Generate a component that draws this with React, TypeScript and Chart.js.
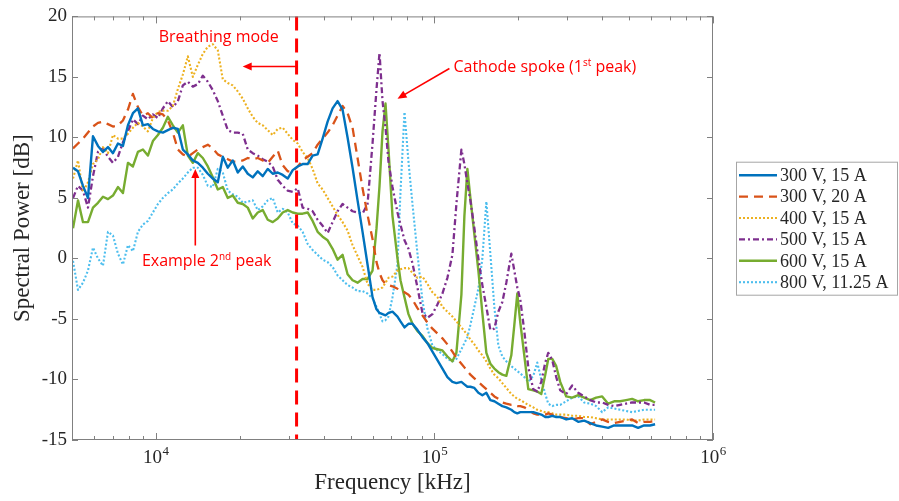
import { useEffect, useRef } from "react";
import { Chart, registerables } from "chart.js";

Chart.register(...registerables);

// Frequency grid (axis units as labelled: 10^4 ... 10^6)
const FREQ = [
  5042, 5254, 5476, 5706, 5947, 6197, 6459, 6731, 7014, 7310, 7618, 7939, 8273, 8622, 8985, 9364,
  9758, 10169, 10598, 11045, 11510, 11995, 12500, 13027, 13576, 14148, 14744, 15365, 16012, 16687,
  17390, 18123, 18887, 19682, 20512, 21376, 22277, 23215, 24194, 25213, 26275, 27382, 28536, 29738,
  30991, 32297,
  33646, 35063, 36540, 38079, 39683, 41355, 43097, 44912, 46804, 48776, 50830, 52971, 55203, 57528,
  59951, 61963, 63516, 65108, 66740, 68413, 70709, 73688, 75535, 78070, 80690, 83398, 86911, 90573,
  94389, 98365, 102510, 106829, 111329, 116020, 119913, 124965, 128100, 131312, 134604, 139121,
  143790, 148615, 153602, 158757, 164084, 169590, 175281, 181163, 188795, 193528, 198380, 203354,
  210178, 217231, 226383, 233980, 241832, 249947, 256214, 264812, 273698, 282883,
  297238, 312326, 328180, 344839, 362343, 380736, 400062, 420369, 441707, 464128, 487687, 512442,
  538454, 565786, 594505, 619552,
];

const V300_15A = [
  7.5, 7.2, 6.0, 5.0, 10.1, 9.3, 8.8, 9.2, 8.7, 9.5, 9.3, 11.0, 12.0, 12.4, 11.0, 11.1,
  10.7, 10.5, 10.4, 10.6, 10.8, 10.7, 9.0, 8.6, 8.1, 7.9, 7.5, 7.0, 6.6, 6.3,
  8.4, 7.5, 8.1, 7.1, 7.6, 7.0, 6.7, 7.2, 6.8, 7.4, 7.0, 7.1, 6.9, 6.6,
  7.3, 7.6,
  7.8, 7.8, 8.5, 8.6, 9.9, 11.3, 12.4, 13.0, 12.3, 10.0, 7.5, 4.8, 2.2, -0.5,
  -3.2, -4.2, -4.5, -4.6, -4.7, -4.5, -4.4, -4.8, -5.2, -5.7, -5.4, -5.4, -5.9, -6.5,
  -7.0, -7.7, -8.4, -9.1, -9.8, -10.2, -10.3, -10.2, -10.4, -10.6, -10.6, -10.7,
  -11.1, -11.3, -11.1, -11.7, -11.8, -12.0, -12.2, -12.3, -12.5, -12.7, -12.8, -12.7,
  -12.7, -12.7, -12.7, -12.8, -12.9, -13.1, -13.1, -13.0, -13.1, -13.1,
  -13.3, -13.2, -13.5, -13.4, -13.6, -13.8, -13.9, -14.0, -13.8, -13.8, -13.8, -13.8,
  -14.0, -13.8, -13.8, -13.7,
];

const V300_20A = [
  9.1, 9.5, 9.9, 10.4, 10.9, 11.2, 11.3, 11.1, 10.9, 11.0, 11.4, 12.3, 13.6, 12.5, 11.8, 12.0,
  11.6, 12.0, 11.9, 11.4, 10.4, 9.0, 8.6, 8.4, 8.7, 9.0, 9.2, 9.4, 9.1, 8.6,
  8.4, 8.2, 8.0, 8.0, 8.1, 8.3, 8.2, 8.3, 8.1, 7.9, 8.4, 8.9, 7.7, 7.2,
  7.2, 7.6,
  8.1, 8.4, 8.7, 9.4, 9.9, 10.4, 11.0, 11.8, 12.6, 12.0, 10.8, 8.3, 5.8, 3.6,
  1.6, -0.3, -1.2, -1.8, -2.1, -2.2, -2.3, -2.5, -2.6, -2.8, -3.0, -3.4, -4.1, -4.7,
  -5.3, -5.8, -6.2, -6.6, -7.1, -7.7, -8.2, -8.7, -9.0, -9.3, -9.6, -9.9,
  -10.2, -10.5, -10.8, -11.1, -11.4, -11.6, -11.9, -12.0, -12.1, -12.1, -12.2, -12.2,
  -12.3, -12.5, -12.8, -12.9, -12.9, -12.9, -12.8, -12.9, -13.0, -13.1,
  -13.2, -13.3, -13.2, -13.2, -13.7, -13.5, -13.3, -13.5, -13.6, -13.5, -13.4, -13.3,
  -13.6, -13.5, -13.5, -13.4,
];

const V400_15A = [
  6.6, 8.1, 5.5, 6.3, 7.8, 8.2, 9.2, 8.7, 10.2, 9.9, 9.9, 10.3, 10.8, 11.2, 10.9, 10.5,
  11.6, 12.1, 12.2, 12.2, 12.6, 14.0, 15.2, 16.7, 15.0, 16.0, 16.9, 17.5, 17.7, 17.2,
  14.8, 14.5, 14.3, 13.8, 13.2, 12.4, 11.7, 11.2, 11.0, 10.6, 10.2, 10.7, 10.8, 10.3,
  9.8, 9.5,
  8.8, 8.3, 7.4, 6.2, 5.7, 5.0, 4.3, 3.6, 3.0, 2.3, 1.1, 0.2, -0.7, -2.1,
  -2.6, -2.6, -2.5, -2.4, -2.0, -1.6, -1.5, -1.0, -0.9, -0.8, -0.8, -1.2, -1.6, -1.5,
  -2.1, -2.8, -3.2, -4.0, -4.4, -4.8, -5.2, -5.7, -6.0, -6.3, -6.7, -7.1,
  -7.6, -8.0, -8.5, -9.1, -9.6, -9.9, -10.3, -10.7, -11.2, -11.4, -11.6, -11.7,
  -11.9, -12.1, -12.3, -12.5, -12.6, -12.7, -12.7, -12.8, -12.9, -12.9,
  -12.9, -13.0, -13.0, -13.1, -13.1, -13.2, -13.3, -13.3, -13.3, -13.3, -13.3, -13.4,
  -13.4, -13.3, -13.3, -13.3,
];

const V500_15A = [
  5.0, 6.0, 5.6, 4.2, 6.8, 8.8, 9.1, 8.4, 7.9, 8.4, 9.6, 10.5, 11.5, 11.1, 11.8, 11.5,
  11.9, 11.6, 12.4, 13.0, 12.5, 13.0, 14.3, 14.6, 14.2, 14.4, 15.1, 14.6, 13.9, 13.0,
  11.8, 10.6, 10.4, 10.4, 10.3, 9.0, 8.7, 8.5, 8.2, 8.0, 7.6, 6.5, 6.0, 5.6,
  5.5, 5.8,
  4.2, 4.1, 3.9, 3.2, 2.7, 2.1, 3.0, 3.9, 4.5, 4.2, 3.9, 3.8, 3.7, 4.5,
  9.5, 14.0, 17.0, 13.0, 10.8, 8.0, 5.9, 3.8, 2.8, 1.5, 0.8, -0.4, -2.4, -4.5,
  -4.9, -4.6, -3.8, -2.9, -1.6, 0.3, 4.5, 9.0, 7.8, 6.2, 4.8, 2.5,
  0.0, -2.2, -4.0, -5.9, -5.8, -4.4, -3.6, -2.0, 0.4, -1.0, -2.4, -3.4,
  -6.0, -9.0, -10.8, -11.0, -10.2, -8.6, -7.8, -8.4, -9.8, -10.9,
  -11.2, -10.5, -11.1, -11.4, -11.7, -11.9, -11.9, -12.1, -12.2, -12.1, -12.0, -11.9,
  -11.9, -11.9, -12.1, -12.1,
];

const V600_15A = [
  2.5, 4.8, 3.0, 3.0, 4.2, 4.6, 5.1, 4.9, 5.2, 5.9, 5.4, 7.9, 7.6, 8.8, 9.0, 8.5,
  9.7, 10.2, 10.8, 11.7, 11.0, 10.4, 11.0, 8.5, 7.9, 8.7, 8.3, 7.6, 6.7, 5.7,
  5.9, 5.0, 5.2, 4.6, 4.5, 4.2, 3.3, 3.8, 4.0, 3.2, 3.0, 3.3, 3.8, 4.0,
  3.8, 3.7,
  3.7, 3.8, 3.1, 2.2, 1.8, 1.5, 0.8, -0.1, 0.3, -1.3, -1.8, -2.0, -1.7, -1.7,
  -1.0, 2.5, 6.0, 10.5, 12.8, 9.0, 3.5, 0.0, -1.8, -3.2, -4.6, -5.4, -6.0, -6.4,
  -7.0, -7.4, -7.5, -7.6, -8.1, -8.5, -7.8, -3.0, 3.5, 7.4, 5.0, 2.0,
  -1.0, -4.5, -7.8, -8.7, -9.1, -9.4, -9.6, -9.7, -8.0, -5.5, -2.9, -5.3,
  -8.0, -10.8, -10.9, -11.0, -11.2, -9.6, -8.3, -8.3, -8.9, -10.2,
  -11.4, -11.5, -11.3, -11.5, -11.7, -11.5, -11.4, -12.0, -11.8, -11.8, -11.7, -11.6,
  -11.8, -11.7, -11.7, -11.9,
];

const V800_1125A = [
  -0.2, -2.6, -2.0, -1.0, 0.9, 0.0, -0.6, 2.2, 1.9, 0.4, -0.5, 1.1, 0.6, 2.2, 2.8, 3.1,
  3.8, 4.5, 5.0, 5.4, 5.7, 6.2, 6.6, 7.1, 7.5, 7.5, 6.9, 6.0, 5.9, 7.4,
  7.1, 5.6, 5.3, 5.1, 4.6, 4.7, 4.8, 4.0, 4.3, 4.8, 5.0, 3.8, 4.1, 3.8,
  2.9, 2.7,
  2.2, 1.2, 0.7, 0.3, -0.1, -0.3, -0.7, -1.4, -1.8, -2.2, -2.4, -2.7, -2.7, -2.9,
  -3.3, -4.0, -4.6, -5.2, -5.1, -4.8, -3.2, -0.5, 5.5, 12.1, 8.0, 4.5, 0.4, -3.5,
  -5.8, -7.2, -7.6, -7.9, -8.3, -8.5, -8.3, -7.5, -7.0, -6.5, -5.5, -4.0,
  -2.5, 0.0, 4.7, 0.4, -4.0, -7.2, -8.1, -8.5, -8.9, -9.1, -9.3, -9.5,
  -9.8, -10.2, -9.7, -8.6, -10.0, -11.2, -12.0, -12.2, -12.1, -12.1,
  -11.8, -11.5, -11.4, -11.9, -12.0, -12.2, -12.7, -12.3, -12.4, -12.5, -12.6, -12.7,
  -12.6, -12.5, -12.5, -12.5,
];

const SERIES_LABELS = ["300 V, 15 A", "300 V, 20 A", "400 V, 15 A", "500 V, 15 A", "600 V, 15 A", "800 V, 11.25 A"];
const SERIES_VALUES = [V300_15A, V300_20A, V400_15A, V500_15A, V600_15A, V800_1125A];
const SERIES_COLORS = ["#0072BD", "#D95319", "#EDB120", "#7E2F8E", "#77AC30", "#4DBEEE"];
const SERIES_DASH: number[][] = [[], [9, 6], [2, 2], [6, 3, 2, 3], [], [2, 2]];
const SERIES_WIDTH = [2.4, 2.3, 2.1, 2.3, 2.4, 2.1];

const Y_TICKS = [-15, -10, -5, 0, 5, 10, 15, 20];
const X_MAJOR = [1e4, 1e5, 1e6];
const X_MAJOR_EXP = ["4", "5", "6"];
const X_MINOR = [
  6000, 7000, 8000, 9000,
  20000, 30000, 40000, 50000, 60000, 70000, 80000, 90000,
  200000, 300000, 400000, 500000, 600000, 700000, 800000, 900000,
];

// Annotations (in data units)
const BREATHING_LINE_FREQ = 32000;
const BREATHING_TEXT = { f: 16820, v: 17.85, text: "Breathing mode" };
const BREATHING_ARROW = { f0: 32000, f1: 20500, v: 15.86 };
const SPOKE_TEXT = { f: 117000, v: 15.4 };
const SPOKE_ARROW = { f0: 113200, v0: 15.7, f1: 73700, v1: 13.2 };
const SECOND_TEXT = { f: 8910, v: -0.62 };
const SECOND_ARROW = { f: 13855, v0: 1.07, v1: 7.4 };

const AXIS_COLOR = "#808080";
const TEXT_COLOR = "#262626";
const RED = "#FF0000";
const SERIF = "'Liberation Serif', 'Times New Roman', serif";
const SANS = "'Open Sans', 'Noto Sans', sans-serif";

function arrowHead(ctx: CanvasRenderingContext2D, x0: number, y0: number, x1: number, y1: number) {
  const ang = Math.atan2(y1 - y0, x1 - x0);
  const len = 9;
  const hw = 4;
  ctx.beginPath();
  ctx.moveTo(x1, y1);
  ctx.lineTo(x1 - len * Math.cos(ang) + hw * Math.sin(ang), y1 - len * Math.sin(ang) - hw * Math.cos(ang));
  ctx.lineTo(x1 - len * Math.cos(ang) - hw * Math.sin(ang), y1 - len * Math.sin(ang) + hw * Math.cos(ang));
  ctx.closePath();
  ctx.fill();
}

function arrow(ctx: CanvasRenderingContext2D, x0: number, y0: number, x1: number, y1: number) {
  const ang = Math.atan2(y1 - y0, x1 - x0);
  ctx.beginPath();
  ctx.moveTo(x0, y0);
  ctx.lineTo(x1 - 7 * Math.cos(ang), y1 - 7 * Math.sin(ang));
  ctx.stroke();
  arrowHead(ctx, x0, y0, x1, y1);
}

function drawRich(ctx: CanvasRenderingContext2D, x: number, y: number, parts: { t: string; sup?: boolean }[]) {
  let cx = x;
  for (const p of parts) {
    ctx.font = p.sup ? `10px ${SANS}` : `16px ${SANS}`;
    ctx.fillText(p.t, cx, p.sup ? y - 6 : y);
    cx += ctx.measureText(p.t).width;
  }
}

const overlayPlugin = {
  id: "overlay",
  afterDatasetsDraw(chart: any) {
    const ctx: CanvasRenderingContext2D = chart.ctx;
    const xs = chart.scales.x;
    const ys = chart.scales.y;
    const { top, bottom } = chart.chartArea;
    ctx.save();
    // red dashed divider
    const px = xs.getPixelForValue(BREATHING_LINE_FREQ);
    ctx.strokeStyle = RED;
    ctx.lineWidth = 3;
    ctx.setLineDash([14, 8]);
    ctx.beginPath();
    ctx.moveTo(px, top);
    ctx.lineTo(px, bottom);
    ctx.stroke();
    ctx.setLineDash([]);

    ctx.fillStyle = RED;
    ctx.strokeStyle = RED;
    ctx.lineWidth = 1.6;
    // breathing arrow
    const by = ys.getPixelForValue(BREATHING_ARROW.v);
    arrow(ctx, xs.getPixelForValue(BREATHING_ARROW.f0), by, xs.getPixelForValue(BREATHING_ARROW.f1), by);
    // spoke arrow
    arrow(
      ctx,
      xs.getPixelForValue(SPOKE_ARROW.f0),
      ys.getPixelForValue(SPOKE_ARROW.v0),
      xs.getPixelForValue(SPOKE_ARROW.f1),
      ys.getPixelForValue(SPOKE_ARROW.v1)
    );
    // second peak arrow
    const sx = xs.getPixelForValue(SECOND_ARROW.f);
    arrow(ctx, sx, ys.getPixelForValue(SECOND_ARROW.v0), sx, ys.getPixelForValue(SECOND_ARROW.v1));

    // texts
    ctx.textBaseline = "alphabetic";
    ctx.textAlign = "center";
    ctx.font = `16px ${SANS}`;
    ctx.fillText(BREATHING_TEXT.text, xs.getPixelForValue(BREATHING_TEXT.f), ys.getPixelForValue(BREATHING_TEXT.v));
    ctx.textAlign = "left";
    drawRich(ctx, xs.getPixelForValue(SPOKE_TEXT.f), ys.getPixelForValue(SPOKE_TEXT.v), [
      { t: "Cathode spoke (1" },
      { t: "st", sup: true },
      { t: " peak)" },
    ]);
    drawRich(ctx, xs.getPixelForValue(SECOND_TEXT.f), ys.getPixelForValue(SECOND_TEXT.v), [
      { t: "Example 2" },
      { t: "nd", sup: true },
      { t: " peak" },
    ]);
    ctx.restore();
  },
  afterDraw(chart: any) {
    const ctx: CanvasRenderingContext2D = chart.ctx;
    const xs = chart.scales.x;
    const ys = chart.scales.y;
    const { left, right, top, bottom } = chart.chartArea;
    ctx.save();
    ctx.strokeStyle = AXIS_COLOR;
    ctx.lineWidth = 1;
    ctx.strokeRect(left + 0.5, top + 0.5, right - left - 1, bottom - top - 1);
    ctx.beginPath();
    for (const v of Y_TICKS) {
      const py = Math.round(ys.getPixelForValue(v)) + 0.5;
      ctx.moveTo(left, py);
      ctx.lineTo(left + 6, py);
      ctx.moveTo(right, py);
      ctx.lineTo(right - 6, py);
    }
    for (const v of X_MAJOR) {
      const px = Math.round(xs.getPixelForValue(v)) + 0.5;
      ctx.moveTo(px, bottom);
      ctx.lineTo(px, bottom - 7);
      ctx.moveTo(px, top);
      ctx.lineTo(px, top + 7);
    }
    for (const v of X_MINOR) {
      const px = Math.round(xs.getPixelForValue(v)) + 0.5;
      ctx.moveTo(px, bottom);
      ctx.lineTo(px, bottom - 4);
      ctx.moveTo(px, top);
      ctx.lineTo(px, top + 4);
    }
    ctx.stroke();

    // x tick labels 10^n
    ctx.fillStyle = TEXT_COLOR;
    ctx.textBaseline = "alphabetic";
    ctx.textAlign = "left";
    X_MAJOR.forEach((v, i) => {
      const px = xs.getPixelForValue(v);
      ctx.font = `19px ${SERIF}`;
      const w1 = ctx.measureText("10").width;
      ctx.font = `13px ${SERIF}`;
      const w2 = ctx.measureText(X_MAJOR_EXP[i]).width;
      const x0 = px - (w1 + w2) / 2;
      ctx.font = `19px ${SERIF}`;
      ctx.fillText("10", x0, bottom + 23);
      ctx.font = `13px ${SERIF}`;
      ctx.fillText(X_MAJOR_EXP[i], x0 + w1 + 0.5, bottom + 15);
    });

    // legend
    const bw = 161;
    const bh = 133;
    const bx = right + 23;
    const byTop = (top + bottom) / 2 - bh / 2;
    ctx.fillStyle = "#ffffff";
    ctx.fillRect(bx, byTop, bw, bh);
    ctx.strokeStyle = "#a6a6a6";
    ctx.lineWidth = 1;
    ctx.strokeRect(bx + 0.5, byTop + 0.5, bw, bh);
    chart.data.datasets.forEach((ds: any, i: number) => {
      const cy = byTop + 13.5 + i * 21.4;
      ctx.strokeStyle = ds.borderColor;
      ctx.lineWidth = ds.borderWidth;
      ctx.setLineDash(ds.borderDash || []);
      ctx.beginPath();
      ctx.moveTo(bx + 3, cy);
      ctx.lineTo(bx + 41, cy);
      ctx.stroke();
      ctx.setLineDash([]);
      ctx.fillStyle = TEXT_COLOR;
      ctx.font = `18px ${SERIF}`;
      ctx.textBaseline = "middle";
      ctx.fillText(ds.label, bx + 44, cy + 1);
    });
    ctx.restore();
  },
};

export default function App() {
  const ref = useRef<HTMLCanvasElement | null>(null);
  useEffect(() => {
    if (!ref.current) return;
    const datasets = SERIES_LABELS.map((label, i) => ({
      label,
      data: FREQ.map((f, j) => ({ x: f, y: SERIES_VALUES[i][j] })),
      borderColor: SERIES_COLORS[i],
      backgroundColor: SERIES_COLORS[i],
      borderWidth: SERIES_WIDTH[i],
      borderDash: SERIES_DASH[i],
      borderJoinStyle: "round" as const,
      pointRadius: 0,
      tension: 0,
      fill: false,
    }));
    const chart = new Chart(ref.current, {
      type: "line",
      data: { datasets },
      options: {
        animation: false,
        responsive: false,
        devicePixelRatio: 1,
        layout: { padding: { top: 14, right: 186, left: 0, bottom: 0 } },
        plugins: { legend: { display: false }, tooltip: { enabled: false } },
        scales: {
          x: {
            type: "logarithmic",
            min: 5000,
            max: 1e6,
            grid: { display: false, drawTicks: false },
            border: { display: false },
            ticks: { display: false },
            title: {
              display: true,
              text: "Frequency [kHz]",
              color: TEXT_COLOR,
              font: { family: SERIF, size: 23 },
              padding: { top: 0, bottom: 4 },
            },
            afterFit: (s: any) => {
              s.height = 61;
            },
          },
          y: {
            type: "linear",
            min: -15,
            max: 20,
            grid: { display: false, drawTicks: false },
            border: { display: false },
            ticks: {
              stepSize: 5,
              color: TEXT_COLOR,
              font: { family: SERIF, size: 19 },
              padding: 5,
            },
            title: {
              display: true,
              text: "Spectral Power [dB]",
              color: TEXT_COLOR,
              font: { family: SERIF, size: 23 },
              padding: { top: 9, bottom: 0 },
            },
            afterFit: (s: any) => {
              s.width = 72;
            },
          },
        },
      },
      plugins: [overlayPlugin],
    });
    return () => chart.destroy();
  }, []);
  return (
    <div style={{ position: "fixed", left: 0, top: 0, width: 899, height: 501, background: "#ffffff" }}>
      <canvas ref={ref} width={899} height={501} style={{ display: "block", width: 899, height: 501 }} />
    </div>
  );
}
